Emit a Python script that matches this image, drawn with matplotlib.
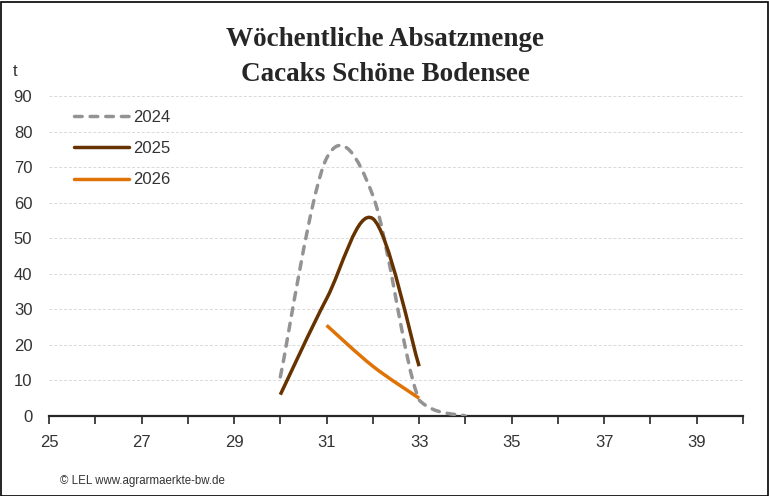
import numpy as np
import matplotlib
matplotlib.use("Agg")
import matplotlib.pyplot as plt
from matplotlib.path import Path
from matplotlib.patches import PathPatch, Rectangle
from matplotlib.lines import Line2D

# Weekly values (t)
weeks_2024 = [30, 31, 32, 33, 34]
values_2024 = [11, 72.5, 62, 4.5, 0]

weeks_2025 = [30, 31, 32, 33]
values_2025 = [6, 33, 55.5, 14]

weeks_2026 = [31, 32, 33]
values_2026 = [25.5, 14, 5]

series_labels = ["2024", "2025", "2026"]
series_colors = ["#939393", "#663300", "#E07306"]

x_ticks = list(range(25, 41))
x_labels = [str(w) if w % 2 == 1 else "" for w in x_ticks]
y_ticks = list(range(0, 100, 10))

title = "Wöchentliche Absatzmenge\nCacaks Schöne Bodensee"
footer = "© LEL www.agrarmaerkte-bw.de"

plt.rcParams["font.family"] = ["Liberation Sans", "DejaVu Sans"]


def smooth_path(xs, ys):
    # smoothed line like Excel: cubic Bezier through every point,
    # control points kept above zero so the curve never dips below 0
    pts = np.column_stack([xs, ys]).astype(float)
    n = len(pts)
    verts = [pts[0]]
    codes = [Path.MOVETO]
    for i in range(n - 1):
        p0 = pts[max(i - 1, 0)]
        p1 = pts[i]
        p2 = pts[i + 1]
        p3 = pts[min(i + 2, n - 1)]
        c1 = p1 + (p2 - p0) / 6
        c2 = p2 - (p3 - p1) / 6
        c1[1] = max(c1[1], 0)
        c2[1] = max(c2[1], 0)
        verts += [c1, c2, p2]
        codes += [Path.CURVE4] * 3
    return Path(verts, codes)


fig = plt.figure(figsize=(7.69, 4.96), dpi=100)
ax = fig.add_axes([49 / 769, 80 / 496, 694 / 769, 320 / 496])
ax.set_xlim(25, 40)
ax.set_ylim(0, 90)

all_series = [(weeks_2024, values_2024), (weeks_2025, values_2025), (weeks_2026, values_2026)]
handles = []
for (xs, ys), label, color in zip(all_series, series_labels, series_colors):
    dashed = label == "2024"
    ls = (0, (2.2, 2.3)) if dashed else "-"
    patch = PathPatch(smooth_path(xs, ys), fill=False, edgecolor=color, lw=2.5,
                      linestyle=ls, capstyle="round" if dashed else "butt",
                      joinstyle="round", zorder=3)
    ax.add_patch(patch)
    handles.append(Line2D([], [], color=color, lw=2.5, linestyle=ls,
                          dash_capstyle="round", solid_capstyle="round", label=label))

ax.set_xticks(x_ticks)
ax.set_xticklabels(x_labels)
ax.set_yticks(y_ticks)

ax.grid(axis="y", color="#d9d9d9", lw=0.7, linestyle=(0, (3, 2)))
ax.set_axisbelow(True)
for side in ["left", "right", "top"]:
    ax.spines[side].set_visible(False)
ax.spines["bottom"].set_color("#262626")
ax.spines["bottom"].set_linewidth(1.6)
ax.spines["bottom"].set_zorder(2)

ax.tick_params(axis="x", length=6, width=1.2, color="#262626", pad=8,
               labelsize=12, labelcolor="#333333")
ax.tick_params(axis="y", length=0, pad=12, labelsize=12, labelcolor="#333333")

leg = ax.legend(handles=handles, loc="upper left",
                bbox_to_anchor=(74 / 769, 1 - 110 / 496), bbox_transform=fig.transFigure,
                frameon=False, borderpad=0, borderaxespad=0, handlelength=3.3,
                handletextpad=0.25, labelspacing=0.97, fontsize=12)
for t in leg.get_texts():
    t.set_color("#333333")

fig.text(385 / 769, 1 - 57 / 496, title, ha="center", va="center",
         family=["Liberation Serif", "DejaVu Serif"], fontweight="bold",
         fontsize=19.5, color="#262626", linespacing=1.52)
fig.text(15 / 769, 1 - 72 / 496, "t", ha="center", va="center",
         fontsize=12, color="#333333")
fig.text(60 / 769, 1 - 481 / 496, footer, ha="left", va="center",
         fontsize=8.3, color="#333333")

fig.add_artist(Rectangle((0.5 / 769, 0.5 / 496), 767 / 769, 494 / 496,
                         transform=fig.transFigure, fill=False,
                         edgecolor="black", lw=1.2))

fig.savefig("out.png", dpi=100)
